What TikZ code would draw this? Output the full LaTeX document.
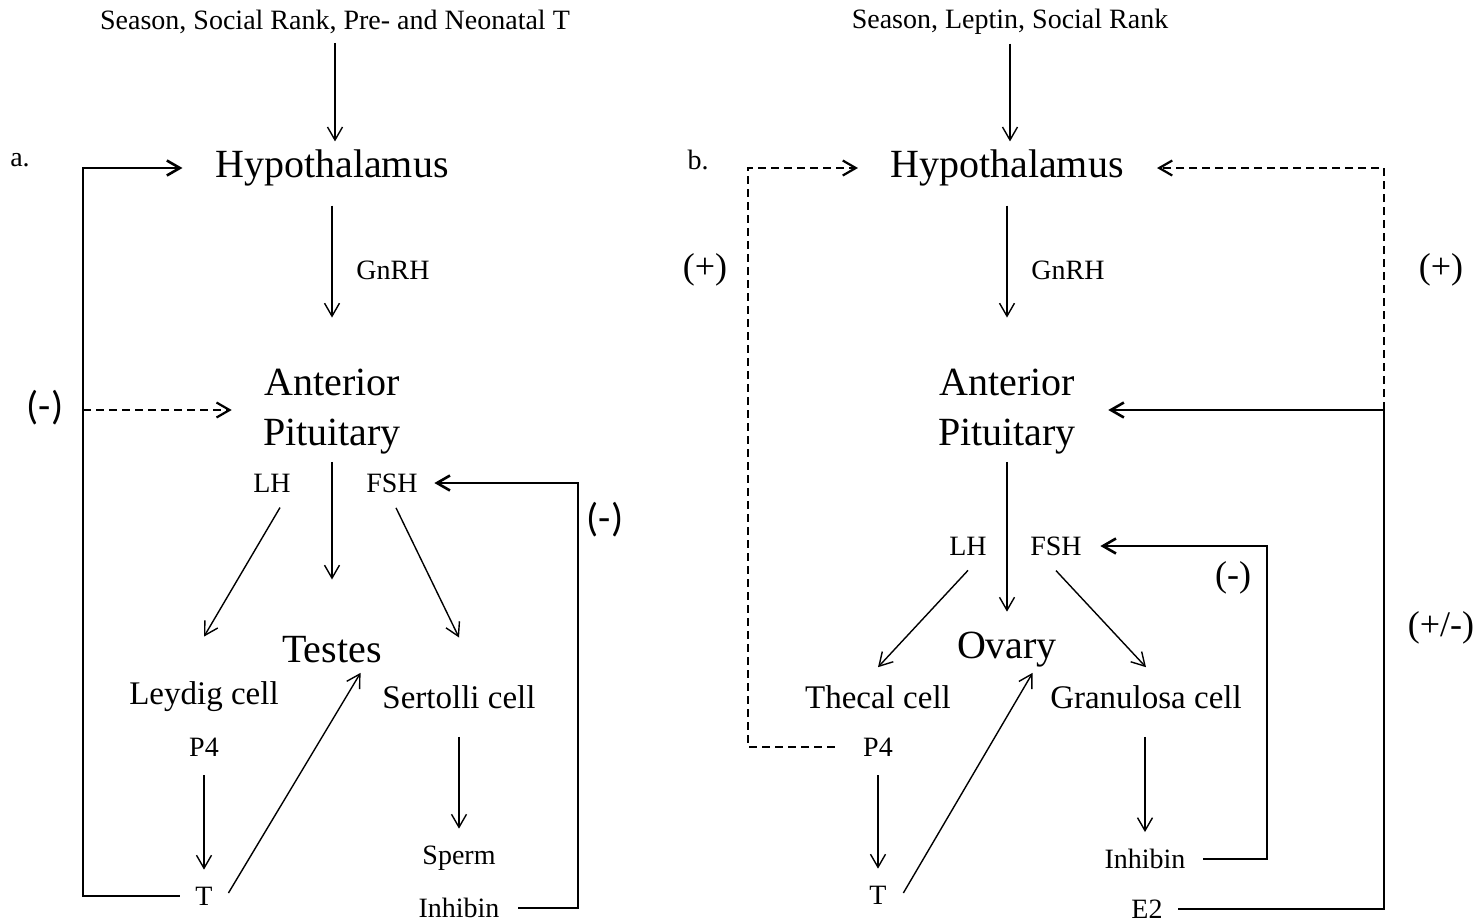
\documentclass[tikz,border=0pt]{standalone}
\usepackage{fontspec}
\setmainfont{Liberation Serif}
\newfontfamily\signsans{Carlito}
\usetikzlibrary{arrows.meta}

\newcommand\organfont{\fontsize{20}{25}\selectfont}
\newcommand\hormfont{\fontsize{14}{17}\selectfont}
\newcommand\cellfont{\fontsize{16.5}{20}\selectfont}
\newcommand\signfont{\fontsize{18}{21}\selectfont}

\begin{document}
\begin{tikzpicture}[x=0.5pt,y=-0.5pt,
  organ/.style={font=\organfont,inner sep=0pt,align=center},
  horm/.style={font=\hormfont,inner sep=0pt},
  cellbox/.style={font=\cellfont,inner sep=0pt},
  sign/.style={font=\signfont,inner sep=0pt},
  signsf/.style={font=\signsans\fontsize{20}{24}\selectfont,inner sep=0pt},
  arr/.style={-{Straight Barb[length=6.5pt,width=7.5pt]},line width=0.7pt},
  feed/.style={arr,line width=1.3pt},
  feeddash/.style={feed,line width=1.1pt,dash pattern=on 4pt off 2.5pt}]
\useasboundingbox (0,0) rectangle (1480,923);

% a. male
\node[horm] (topA) at (335,22) {Season, Social Rank, Pre- and Neonatal T};
\node[horm] (labA) at (20,160) {a.};
\node[organ] (hypA) at (332,168) {Hypothalamus};
\node[horm] (gnrhA) at (393,270) {GnRH};
\node[organ] (antA) at (332,412) {Anterior\\Pituitary};
\node[horm] (lhA) at (272,483) {LH};
\node[horm] (fshA) at (392,483) {FSH};
\node[organ] (testA) at (332,650) {Testes};
\node[cellbox] (leydA) at (204,697) {Leydig cell};
\node[cellbox] (sertA) at (459,697) {Sertolli cell};
\node[horm] (p4A) at (204,747) {P4};
\node[horm] (tA) at (204,896) {T};
\node[horm] (spermA) at (459,858) {Sperm};
\node[horm] (inhA) at (459,908) {Inhibin};
\node[signsf] (negA1) at (45,408) {(-)};
\node[signsf] (negA2) at (605,520) {(-)};
\coordinate (lftA) at (83,0);
\coordinate (rgtA) at (578,0);

\draw[arr,shorten <=4.25pt,shorten >=4pt] (topA.south) -- (topA.south |- hypA.north);
\draw[arr,shorten <=9.5pt,shorten >=25.75pt] (hypA) -- (antA);
\draw[arr,shorten <=3.5pt,shorten >=28.4pt] (antA) -- (testA);
\draw[arr] ([xshift=4pt,yshift=-7.5pt]lhA.south) -- ([yshift=22.5pt]leydA.north);
\draw[arr] ([xshift=2pt,yshift=-7.5pt]fshA.south) -- ([yshift=23.75pt]sertA.north);
\draw[arr,shorten <=9.25pt,shorten >=8.4pt] (p4A) -- (tA);
\draw[arr] ([xshift=7.75pt,yshift=1.5pt]tA.east) -- ([xshift=-10.75pt,yshift=18.1pt]sertA.south west);
\draw[arr,shorten <=13.9pt,shorten >=8.35pt] (sertA) -- (spermA);
\draw[feed,shorten <=7.75pt,shorten >=16.25pt] (tA.west) -- (tA.west -| lftA) -- (lftA |- hypA.west) -- (hypA.west);
\draw[feeddash,shorten >=15.5pt] ([yshift=1pt]lftA |- antA.west) -- ([yshift=1pt]antA.west);
\draw[feed,shorten <=9.25pt,shorten >=8.15pt] (inhA.east) -- (inhA.east -| rgtA) -- (rgtA |- fshA.east) -- (fshA.east);

% b. female
\node[horm] (topB) at (1010,22) {Season, Leptin, Social Rank};
\node[horm] (labB) at (698,160) {b.};
\node[organ] (hypB) at (1007,168) {Hypothalamus};
\node[horm] (gnrhB) at (1068,270) {GnRH};
\node[organ] (antB) at (1007,412) {Anterior\\Pituitary};
\node[horm] (lhB) at (968,546) {LH};
\node[horm] (fshB) at (1056,546) {FSH};
\node[organ] (ovB) at (1007,650) {Ovary};
\node[cellbox] (thecB) at (878,697) {Thecal cell};
\node[cellbox] (granB) at (1146,697) {Granulosa cell};
\node[horm] (p4B) at (878,747) {P4};
\node[horm] (tB) at (878,895) {T};
\node[horm] (inhB) at (1145,859) {Inhibin};
\node[horm] (e2B) at (1147,909) {E2};
\node[sign] (posB1) at (705,270) {(+)};
\node[sign] (posB2) at (1441,270) {(+)};
\node[sign] (negB) at (1233,578) {(-)};
\node[sign] (mixB) at (1441,628) {(+/-)};
\coordinate (lftB) at (748,0);
\coordinate (midB) at (1267,0);
\coordinate (rgtB) at (1384,0);

\draw[arr,shorten <=4.25pt,shorten >=4pt] (topB.south) -- (topB.south |- hypB.north);
\draw[arr,shorten <=9.5pt,shorten >=25.75pt] (hypB) -- (antB);
\draw[arr,shorten <=3.5pt,shorten >=10.2pt] (antB) -- (ovB);
\draw[arr] ([yshift=-7.4pt]lhB.south) -- ([yshift=8.9pt]thecB.north);
\draw[arr] ([yshift=-7.4pt]fshB.south) -- ([yshift=8.9pt]granB.north);
\draw[arr,shorten <=9.25pt,shorten >=8.4pt] (p4B) -- (tB);
\draw[arr] ([xshift=8.2pt,yshift=1pt]tB.east) -- ([xshift=-8.6pt,yshift=18.1pt]granB.south west);
\draw[arr,shorten <=13.9pt,shorten >=8.35pt] (granB.south -| inhB) -- (inhB);
\draw[feed,shorten <=8.75pt,shorten >=9.15pt] (inhB.east) -- (inhB.east -| midB) -- (midB |- fshB.east) -- (fshB.east);
\draw[feed,shorten <=7.75pt,shorten >=16pt] (e2B.east) -- (e2B.east -| rgtB) -- ([yshift=1pt]rgtB |- antB.east) -- ([yshift=1pt]antB.east);
\draw[feeddash,shorten >=16.5pt] ([yshift=1pt]rgtB |- antB.east) -- (rgtB |- hypB.east) -- (hypB.east);
\draw[feeddash,shorten <=14pt,shorten >=16pt] (p4B.west) -- (p4B.west -| lftB) -- (lftB |- hypB.west) -- (hypB.west);
\end{tikzpicture}
\end{document}
